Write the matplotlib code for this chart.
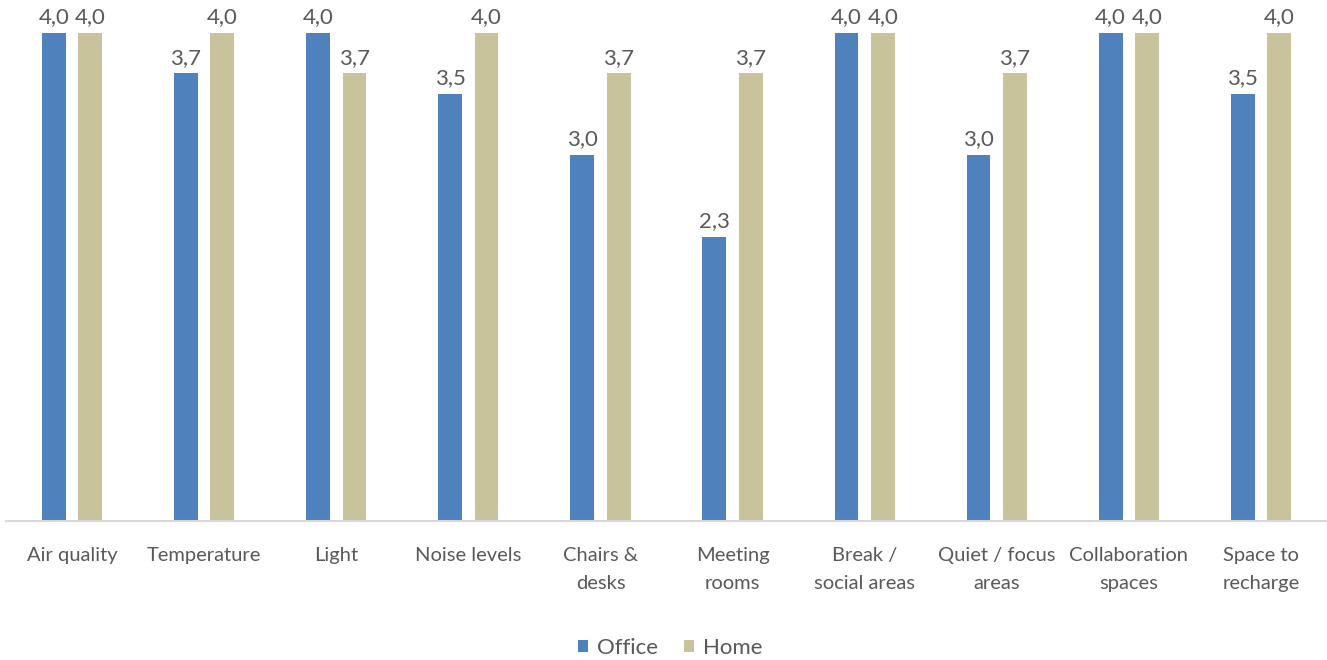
import numpy as np
import matplotlib.pyplot as plt

categories = ["Air quality", "Temperature", "Light", "Noise levels", "Chairs &\ndesks",
              "Meeting\nrooms", "Break /\nsocial areas", "Quiet / focus\nareas",
              "Collaboration\nspaces", "Space to\nrecharge"]
office = [4.0, 3.67, 4.0, 3.5, 3.0, 2.33, 4.0, 3.0, 4.0, 3.5]
home = [4.0, 4.0, 3.67, 4.0, 3.67, 3.67, 4.0, 3.67, 4.0, 4.0]

plt.rcParams['font.family'] = ['Lato', 'DejaVu Sans']
txt = '#595959'

fig = plt.figure(figsize=(13.27, 6.6), dpi=100)
ax = fig.add_axes([6 / 1327, 1 - 521 / 660, 1 - 6 / 1327, 521 / 660])

x = np.arange(len(categories))
off = 0.138
w = 0.18
b1 = ax.bar(x - off, office, w, color='#4F81BD', label='Office')
b2 = ax.bar(x + off, home, w, color='#C9C39B', label='Home')

for bars in (b1, b2):
    for r in bars:
        h = r.get_height()
        ax.annotate(f"{h:.1f}".replace('.', ','), (r.get_x() + r.get_width() / 2, h),
                    xytext=(0, 4), textcoords='offset points', ha='center', va='bottom',
                    fontsize=16, color=txt)

ax.set_xlim(-0.5, len(categories) - 0.5)
ax.set_ylim(0, 4.27)
ax.set_yticks([])
ax.set_xticks(x)
ax.set_xticklabels(categories, fontsize=14.5, color=txt, linespacing=1.75)
ax.tick_params(axis='x', length=0, pad=19)
for s in ['top', 'right', 'left']:
    ax.spines[s].set_visible(False)
ax.spines['bottom'].set_color('#D9D9D9')
ax.spines['bottom'].set_linewidth(1.5)

leg = fig.legend(handles=[b1, b2], loc='center', bbox_to_anchor=(0.505, 1 - 648 / 660), ncol=2,
                 frameon=False, fontsize=16, handlelength=0.45, handleheight=0.45,
                 handletextpad=0.4, columnspacing=1.2)
for t in leg.get_texts():
    t.set_color(txt)

fig.savefig('out.png', dpi=100)
